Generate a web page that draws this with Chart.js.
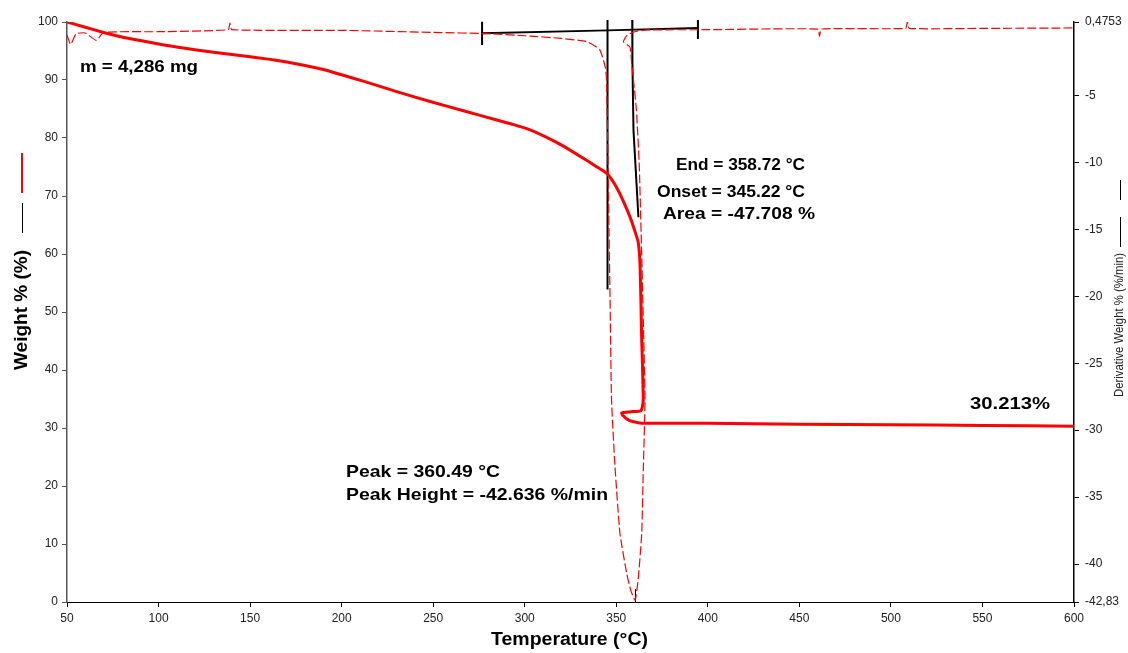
<!DOCTYPE html>
<html>
<head>
<meta charset="utf-8">
<script src="https://cdn.jsdelivr.net/npm/chart.js@4.4.1/dist/chart.umd.min.js"></script>
<style>
  html, body { margin: 0; padding: 0; background: #fff; }
  #wrap { width: 1128px; height: 653px; }
</style>
</head>
<body>
<div id="wrap"><canvas id="tgaChart" width="1128" height="653"></canvas></div>
<script>
// tick labels
const tempTicks = [50, 100, 150, 200, 250, 300, 350, 400, 450, 500, 550, 600];
const weightTicks = [0, 10, 20, 30, 40, 50, 60, 70, 80, 90, 100];
const derivTicks = [-42.83, -40, -35, -30, -25, -20, -15, -10, -5, 0.4753];

// weight % vs temperature (solid red, left axis)
const weightTemp = [50, 60, 70, 80, 90, 100, 113.5, 130, 150, 160, 170, 180, 190, 200, 211.8, 230.1, 248.3, 266.5, 284.7, 294, 302.9, 312, 321.1, 332, 339, 344.8, 348, 351, 354, 357.5, 360, 362, 363, 363.8, 364.7, 363.5, 358, 353, 353.5, 357, 362, 366, 400, 450, 500, 550, 600];
const weightPct = [100, 99.1, 98.2, 97.4, 96.8, 96.2, 95.5, 94.8, 94.0, 93.6, 93.1, 92.5, 91.8, 90.9, 89.8, 88.0, 86.3, 84.7, 83.1, 82.3, 81.4, 80.1, 78.6, 76.5, 75.1, 73.9, 72.6, 71.0, 69.0, 66.4, 64.1, 62.0, 58.0, 46.4, 34.8, 33.0, 32.8, 32.6, 32.2, 31.3, 30.9, 30.8, 30.8, 30.65, 30.55, 30.45, 30.3];

// derivative weight vs temperature (dashed red, right axis)
const derivTemp = [50, 52, 55, 60, 66, 70, 100, 138, 139, 140, 200, 250, 280, 300, 320, 334, 341, 344, 344.7, 345.5, 346, 346.6, 347.4, 349.3, 352, 355.7, 358, 360.3, 362, 363.9, 364.8, 365.7, 364.8, 363.9, 362.5, 361, 359.5, 358.4, 357.5, 353.9, 356, 360, 366.5, 400, 460, 461, 462, 508, 509, 510, 550, 600];
const derivVal = [-0.5, -1.2, -0.4, -0.35, -0.9, -0.3, -0.25, -0.1, 0.4, -0.1, -0.15, -0.3, -0.4, -0.55, -0.75, -1.0, -1.6, -2.9, -3.85, -10, -15, -20.1, -27.7, -32.7, -37.7, -40.7, -42.0, -42.7, -41.1, -37.7, -32.7, -27.7, -22, -17, -10, -6.1, -4, -2.6, -1.4, -1.0, -0.5, -0.25, -0.12, -0.1, -0.05, -0.6, -0.05, 0, 0.5, 0, 0, 0.03];

// black analysis marks (right axis)
const baseTemp = [276.7, 345.22, 394.6];
const baseVal = [-0.37, -0.15, 0.03];
const onsetTemp = [345.22, 345.22];
const onsetVal = [0.62, -19.5];
const endTemp = [358.72, 358.72, 358.9, 359.4, 362.1];
const endVal = [0.62, -0.2, -2.4, -7.6, -14.1];
const leftTickTemp = [276.7, 276.7];
const leftTickVal = [0.5, -1.24];
const rightTickTemp = [394.6, 394.6];
const rightTickVal = [0.62, -0.79];
const peakTemp = [360.49, 360.49];
const peakVal = [-41.9, -42.83];

const pts = (xs, ys) => xs.map((x, i) => ({ x: x, y: ys[i] }));

function blackLine(xs, ys) {
    return {
        data: pts(xs, ys),
        yAxisID: 'y1',
        borderColor: '#000',
        borderWidth: 2,
        pointRadius: 0,
        showLine: true,
        clip: false,
        tension: 0
    };
}

const FONT = '"Liberation Sans", Arial, sans-serif';

// draw text stretched to the width it has in the original
function fitText(c, text, x, y, w) {
    const m = c.measureText(text).width;
    c.save();
    c.translate(x, y);
    c.scale(w / m, 1);
    c.fillText(text, 0, 0);
    c.restore();
}

// titles and annotation texts
const labelsPlugin = {
    id: 'labels',
    afterDraw(chart) {
        const c = chart.ctx;
        c.save();
        c.fillStyle = '#000';
        c.textBaseline = 'middle';
        c.textAlign = 'left';
        c.font = 'bold 17px ' + FONT;
        fitText(c, 'm = 4,286 mg', 80, 67, 118);
        fitText(c, 'End = 358.72 \u00B0C', 676, 165, 129);
        fitText(c, 'Onset = 345.22 \u00B0C', 657, 192, 148);
        fitText(c, 'Area = -47.708 %', 663, 214, 152);
        fitText(c, '30.213%', 970, 404, 80);
        fitText(c, 'Peak = 360.49 \u00B0C', 346, 472, 154);
        fitText(c, 'Peak Height = -42.636 %/min', 346, 495, 262);

        // x title
        c.font = 'bold 18px ' + FONT;
        fitText(c, 'Temperature (\u00B0C)', 491, 640, 157);

        // left title
        c.save();
        c.translate(22, 370);
        c.rotate(-Math.PI / 2);
        fitText(c, 'Weight % (%)', 0, 0, 120);
        c.restore();
        c.strokeStyle = '#000';
        c.lineWidth = 1;
        c.beginPath(); c.moveTo(22.5, 203); c.lineTo(22.5, 233); c.stroke();
        c.strokeStyle = '#ff0000';
        c.lineWidth = 2;
        c.beginPath(); c.moveTo(22, 153); c.lineTo(22, 193); c.stroke();

        // right title
        c.save();
        c.translate(1120, 397);
        c.rotate(-Math.PI / 2);
        c.font = '12px ' + FONT;
        c.fillStyle = '#222';
        fitText(c, 'Derivative Weight % (%/min)', 0, 0, 144);
        c.restore();
        c.strokeStyle = '#000';
        c.lineWidth = 1;
        c.beginPath(); c.moveTo(1120.5, 217); c.lineTo(1120.5, 247); c.stroke();
        c.beginPath(); c.moveTo(1120.5, 180); c.lineTo(1120.5, 200); c.stroke();
        c.restore();
    }
};

const tickFont = { family: FONT, size: 12 };

new Chart(document.getElementById('tgaChart'), {
    type: 'scatter',
    data: {
        datasets: [
            {
                data: pts(derivTemp, derivVal),
                yAxisID: 'y1',
                borderColor: '#ff0000',
                borderWidth: 1.2,
                borderDash: [9, 3],
                pointRadius: 0,
                showLine: true,
                tension: 0.15
            },
            {
                data: pts(weightTemp, weightPct),
                yAxisID: 'y',
                borderColor: '#ff0000',
                borderWidth: 3,
                pointRadius: 0,
                showLine: true,
                tension: 0.2
            },
            blackLine(baseTemp, baseVal),
            blackLine(onsetTemp, onsetVal),
            blackLine(endTemp, endVal),
            blackLine(leftTickTemp, leftTickVal),
            blackLine(rightTickTemp, rightTickVal),
            Object.assign(blackLine(peakTemp, peakVal), { borderWidth: 1 })
        ]
    },
    options: {
        responsive: false,
        animation: false,
        layout: { padding: { top: 22, left: 0, right: 0, bottom: 0 } },
        plugins: { legend: { display: false }, tooltip: { enabled: false } },
        scales: {
            x: {
                type: 'linear',
                min: 50,
                max: 600,
                afterBuildTicks: s => { s.ticks = tempTicks.map(v => ({ value: v })); },
                afterFit: s => { s.height = 51; },
                ticks: { color: '#222', font: tickFont, padding: 4, maxRotation: 0 },
                grid: { display: true, drawOnChartArea: false, tickLength: 5, color: '#000' },
                border: { color: '#000', width: 1 }
            },
            y: {
                position: 'left',
                min: 0,
                max: 100,
                afterBuildTicks: s => { s.ticks = weightTicks.map(v => ({ value: v })); },
                afterFit: s => { s.width = 67; },
                ticks: { color: '#222', font: tickFont, padding: 4 },
                grid: { display: true, drawOnChartArea: false, tickLength: 5, color: '#555' },
                border: { color: '#555', width: 1.5 }
            },
            y1: {
                position: 'right',
                min: -42.83,
                max: 0.4753,
                afterBuildTicks: s => { s.ticks = derivTicks.map(v => ({ value: v })); },
                afterFit: s => { s.width = 54; },
                ticks: {
                    color: '#222',
                    font: tickFont,
                    padding: 6,
                    callback: v => String(v).replace('.', ',')
                },
                grid: { display: true, drawOnChartArea: false, tickLength: 5, color: '#000' },
                border: { color: '#000', width: 1.5 }
            }
        }
    },
    plugins: [labelsPlugin]
});
</script>
</body>
</html>
